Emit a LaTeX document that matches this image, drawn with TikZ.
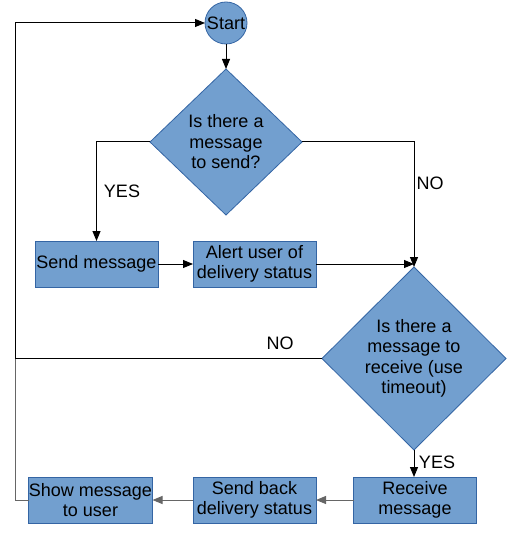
\documentclass[tikz,border=0pt]{standalone}
\usepackage{fontspec}
\setmainfont{Liberation Sans}
\usetikzlibrary{shapes.geometric,arrows.meta}
\definecolor{boxfill}{HTML}{729FCF}
\definecolor{boxline}{HTML}{3465A4}
\definecolor{greyline}{HTML}{666666}
\tikzset{
  base/.style={fill=boxfill,draw=boxline,line width=0.8pt,inner sep=0pt,outer sep=0pt,align=center,
    font=\fontsize{18}{20.5}\selectfont},
  box/.style={base,rectangle,minimum width=123pt,minimum height=46pt},
  dec/.style={base,diamond},
  startnode/.style={base,circle,minimum size=42pt},
  conn/.style={line width=1pt,-{Triangle[length=10pt,width=8pt]}},
  plain/.style={line width=1pt},
  lbl/.style={font=\fontsize{18}{20.5}\selectfont,inner sep=0pt}
}
\begin{document}
\begin{tikzpicture}[x=1pt,y=-1pt]
\useasboundingbox (0,0) rectangle (521,537);
\node[startnode] (start) at (226,23) {Start};
\node[dec,minimum width=152pt,minimum height=146pt] (d1) at (226,142) {Is there a\\message\\to send?};
\node[box] (send) at (96.5,264) {Send message};
\node[box] (alert) at (254.5,264) {Alert user of\\delivery status};
\node[dec,minimum width=184pt,minimum height=183pt] (d2) at (414,358.5) {Is there a\\message to\\receive (use\\timeout)};
\node[box] (recv) at (415,500) {Receive\\message};
\node[box] (sendback) at (254.5,500) {Send back\\delivery status};
\node[box,minimum width=124pt] (show) at (90.5,500) {Show message\\to user};
\coordinate (loop) at (15,358.5);
\draw[conn] (start) -- (d1.north);
\draw[conn] (d1.west) -| (send.north);
\draw[conn] (d1.east) -| (d2.north);
\draw[conn] (send) -- (alert);
\draw[conn] (alert.east) -- (alert.east -| d2.north);
\draw[conn] (d2.south) -- (d2.south |- recv.north);
\draw[conn,greyline] (recv) -- (sendback);
\draw[conn,greyline] (sendback) -- (show);
\draw[plain,greyline] (show.west) -| (loop);
\draw[conn] (d2.west) -- (loop) |- (start.west);
\node[lbl] at (122,191) {YES};
\node[lbl] at (430,183) {NO};
\node[lbl] at (280,343) {NO};
\node[lbl] at (437,462) {YES};
\end{tikzpicture}
\end{document}
